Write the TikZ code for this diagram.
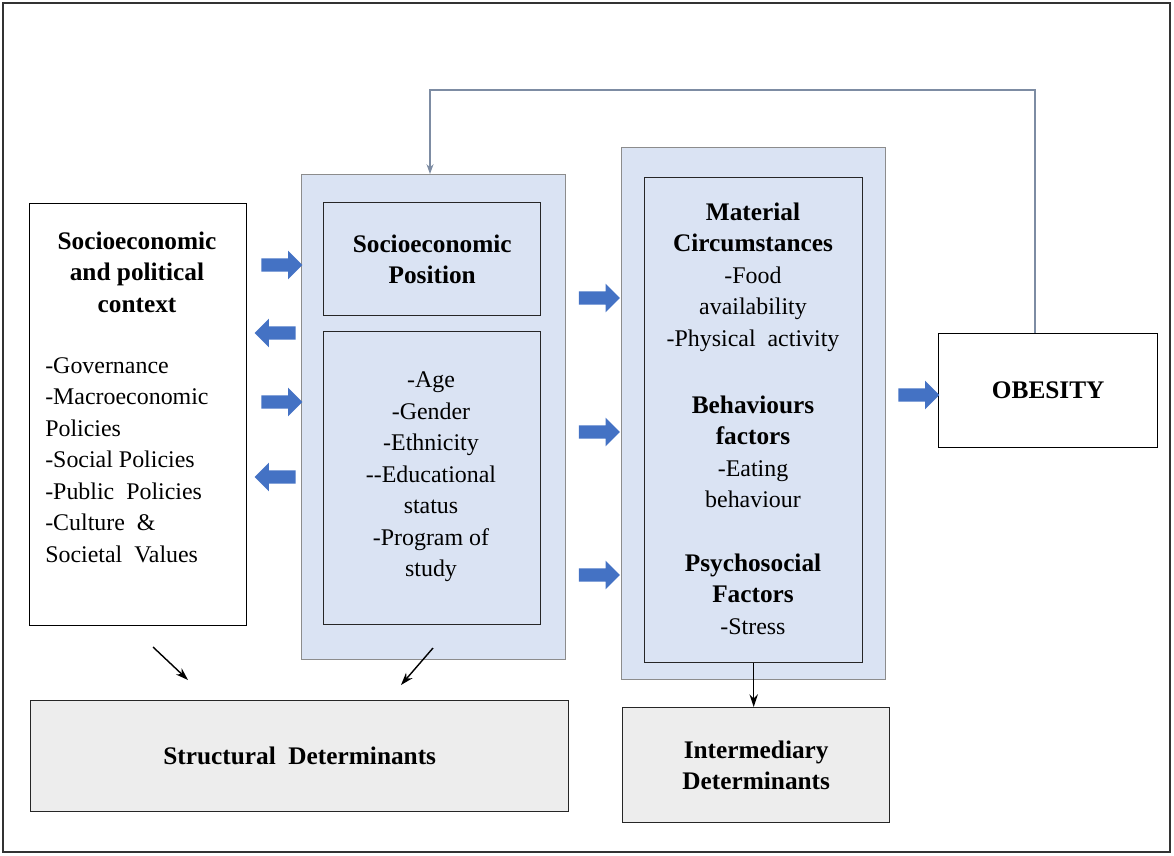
\documentclass[tikz,border=0pt]{standalone}
\usepackage{fontspec}
\setmainfont{LiberationSerif}[Extension = .ttf,
                              UprightFont = *-Regular,
                              BoldFont = *-Bold,
                              ItalicFont = *-Italic,
                              BoldItalicFont = *-BoldItalic]
\usetikzlibrary{arrows.meta, positioning, shapes.arrows}
\definecolor{boxblue}{HTML}{DAE3F3}
\definecolor{arrowblue}{HTML}{4472C4}
\definecolor{detgray}{HTML}{EDEDED}
\definecolor{edgegray}{HTML}{8C8C8C}
\definecolor{fbline}{HTML}{7D8CA3}
\newcommand{\pxu}{0.025cm}
\tikzset{x = 0.025cm, y = -0.025cm,
         >= {Stealth[length = 9pt, width = 6pt]},
         box/.style = {draw, rectangle, inner sep = 0pt,
                       anchor = north west, line width = 1pt},
         outerbox/.style = {box, draw = edgegray, fill = boxblue},
         innerbox/.style = {box, draw = black!85, fill = boxblue},
         detbox/.style = {box, draw = black!85, fill = detgray},
         txt/.style = {align = center, inner sep = 0pt,
                       font = \fontsize{17}{22.4}\selectfont},
         head/.style = {align = center, inner sep = 0pt,
                        font = \fontsize{18}{22.4}\selectfont\bfseries},
         blockarrow/.style = {single arrow, fill = arrowblue, draw = none,
                              inner xsep = 0pt, inner ysep = 0.16cm,
                              minimum height = 1.025cm,
                              single arrow head extend = 0.19cm}}

\begin{document}
\begin{tikzpicture}
        \useasboundingbox (0,0) rectangle (1174,855);
        \draw[line width = 1pt, black!80] (3,3) rectangle (1170,852);

        % boxes
        \node[box, minimum width = 217*\pxu, minimum height = 422*\pxu]        (ctx)    at (29,203)  {};
        \node[outerbox, minimum width = 264*\pxu, minimum height = 485*\pxu]   (sepout) at (301,174) {};
        \node[innerbox, minimum width = 217*\pxu, minimum height = 113*\pxu]   (sepup)  at (323,202) {};
        \node[innerbox, minimum width = 217*\pxu, minimum height = 293*\pxu]   (seplow) at (323,331) {};
        \node[outerbox, minimum width = 264*\pxu, minimum height = 532*\pxu]   (matout) at (621,147) {};
        \node[innerbox, minimum width = 218*\pxu, minimum height = 485*\pxu]   (matin)  at (644,177) {};
        \node[box, minimum width = 219*\pxu, minimum height = 114*\pxu]        (obes)   at (938,333) {};
        \node[detbox, minimum width = 538*\pxu, minimum height = 111*\pxu]     (struct) at (30,700)  {};
        \node[detbox, minimum width = 267*\pxu, minimum height = 115*\pxu]     (inter)  at (622,707) {};

        % texts
        \node[head]                       (ctxhead)  at (137,272)  {Socioeconomic\\and political\\context};
        \node[txt, align = left, anchor = west] (ctxbody) at (45,460)
             {-Governance\\-Macroeconomic\\Policies\\-Social Policies\\-Public\ \ Policies\\-Culture\ \ \&\\Societal\ \ Values};
        \node[head]                       (septxt)   at (sepup.center)  {Socioeconomic\\Position};
        \node[txt]                        (lowtxt)   at (431,477)  {-Age\\-Gender\\-Ethnicity\\-{}-Educational\\status\\-Program of\\study};
        \node[txt]                        (mattxt)   at (753,277)  {\textbf{\fontsize{18}{22.4}\selectfont Material}\\
             \textbf{\fontsize{18}{22.4}\selectfont Circumstances}\\-Food\\availability\\-Physical\ \ activity};
        \node[txt]                        (behtxt)   at (753,452)  {\textbf{\fontsize{18}{22.4}\selectfont Behaviours}\\
             \textbf{\fontsize{18}{22.4}\selectfont factors}\\-Eating\\behaviour};
        \node[txt]                        (psytxt)   at (753,594)  {\textbf{\fontsize{18}{22.4}\selectfont Psychosocial}\\
             \textbf{\fontsize{18}{22.4}\selectfont Factors}\\-Stress};
        \node[head]                       (obestxt)  at (obes.center)   {OBESITY};
        \node[head]                       (structtxt) at (struct.center) {Structural\ \ Determinants};
        \node[head]                       (intertxt) at (inter.center)  {Intermediary\\Determinants};

        % block arrows
        \foreach \y/\r in {265/0, 333/180, 402/0, 477/180}
            \node[blockarrow, shape border rotate = \r] (ctxarr\y) at (278.5,\y) {};
        \foreach \y in {298, 432, 575}
            \node[blockarrow] (matarr\y) at (596,\y) {};
        \node[blockarrow] (obesarr) at (915.5,395) {};

        % feedback line
        \coordinate (fbtop)  at (1035,90);
        \coordinate (fbleft) at (430,90);
        \draw[fbline, line width = 1pt, -{Stealth[length = 7pt, width = 5pt]}]
             (obes.north -| fbtop) -- (fbtop) -- (fbleft) -- (fbleft |- sepout.north);

        % thin arrows
        \coordinate (ctxfrom)  at (153,647);
        \coordinate (ctxto)    at (188,680);
        \coordinate (sepfrom)  at (433,648);
        \coordinate (septo)    at (401,685);
        \draw[->, line width = 1pt] (ctxfrom) -- (ctxto);
        \draw[->, line width = 1pt] (sepfrom) -- (septo);
        \draw[->, line width = 1pt] (matin.south) -- (matin.south |- inter.north);
\end{tikzpicture}
\end{document}
